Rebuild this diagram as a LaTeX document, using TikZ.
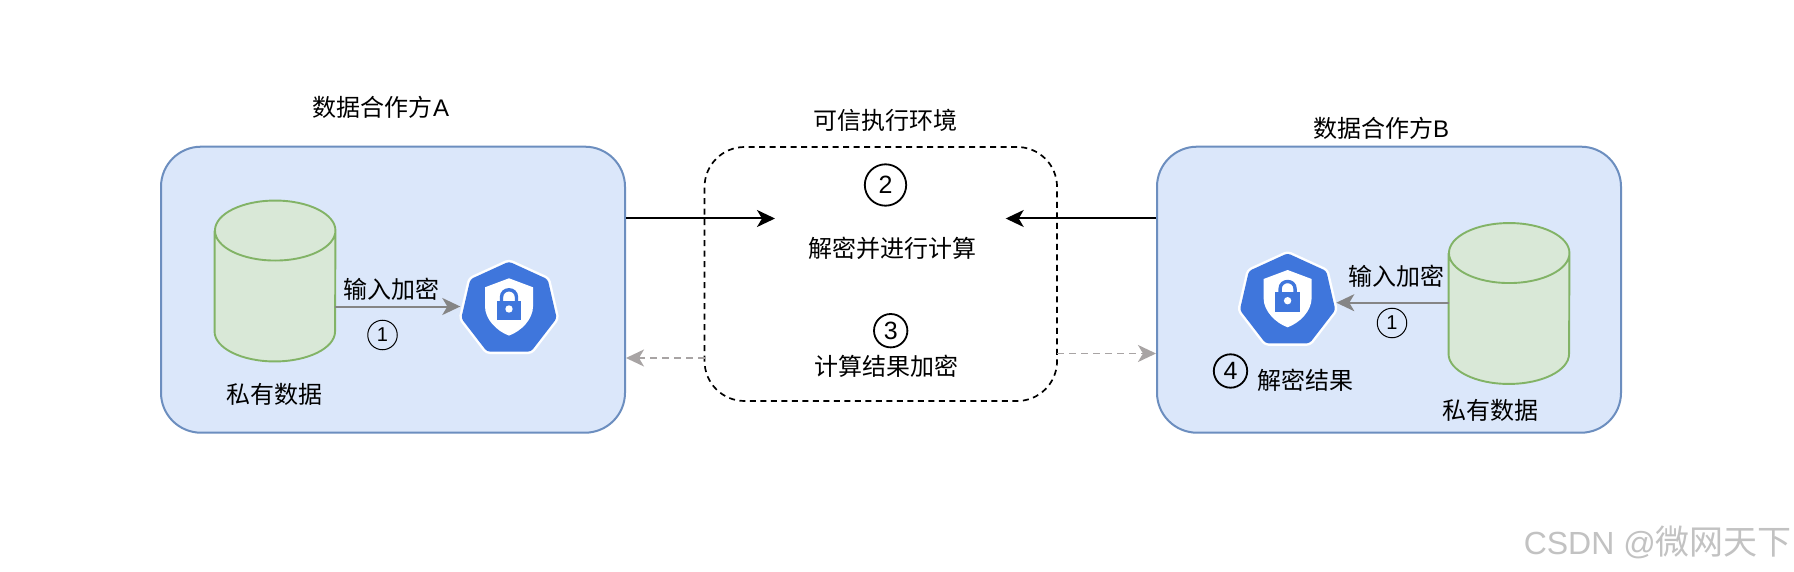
\documentclass[tikz,border=0pt]{standalone}
\usepackage{fontspec}
\setmainfont{Liberation Sans}
\newfontfamily\cjk{Noto Sans CJK SC}
\usetikzlibrary{arrows.meta,calc}
\definecolor{boxfill}{HTML}{DBE7FA}
\definecolor{boxline}{HTML}{6C8EBF}
\definecolor{cylfill}{HTML}{D9E8D7}
\definecolor{cylline}{HTML}{82B366}
\definecolor{iconblue}{HTML}{3F76DC}
\definecolor{arrgrey}{HTML}{858585}
\definecolor{dashgrey}{HTML}{A8A4A4}
\tikzset{
  party/.style={draw=boxline,fill=boxfill,line width=2pt,rounded corners=40pt,inner sep=0pt,minimum width=464pt,minimum height=286pt},
  tee/.style={draw=black,line width=1.7pt,dash pattern=on 6pt off 4.5pt,rounded corners=40pt,inner sep=0pt,minimum width=352.5pt,minimum height=254pt},
  cylslot/.style={inner sep=0pt,minimum width=120.5pt,minimum height=160.5pt},
  iconslot/.style={inner sep=0pt,minimum width=97pt,minimum height=94pt},
  label/.style={inner sep=0pt,font=\fontsize{24}{28}\selectfont\cjk,text=black},
  bold ring/.style={draw=black,circle,line width=1.8pt,inner sep=0pt,font=\fontsize{25}{28}\selectfont},
  thin ring/.style={draw=black,circle,line width=1pt,inner sep=0pt,minimum size=29.5pt,font=\fontsize{20}{24}\selectfont},
  solidarrow/.style={draw=black,line width=2pt,-{Stealth[length=18pt,width=17pt,inset=5pt]}},
  greyarrow/.style={draw=arrgrey,line width=2pt,-{Stealth[length=18pt,width=17pt,inset=5pt]}},
  dasharrow/.style={draw=dashgrey,line width=1.8pt,dash pattern=on 7pt off 5pt,-{Stealth[length=18pt,width=17pt,inset=5pt,fill=dashgrey]}},
  pics/shieldicon/.style={code={
    \path[fill=iconblue,draw=white,line width=5pt,rounded corners=3pt,line join=round]
      (0,-51.7)--(38.7,-34)--(47.7,5)--(22,38.3)--(-22,38.3)--(-47.7,5)--(-38.7,-34)--cycle;
    \path[fill=iconblue,rounded corners=3pt]
      (0,-51.7)--(38.7,-34)--(47.7,5)--(22,38.3)--(-22,38.3)--(-47.7,5)--(-38.7,-34)--cycle;
    \path[fill=white] (0,-35)--(24,-26)--(24,-6.7)
      .. controls (24,6) and (12,18) .. (0,22.3)
      .. controls (-12,18) and (-24,6) .. (-24,-6.7)--(-24,-26)--cycle;
    \draw[iconblue,line width=3.4pt] (-7.5,-12) -- (-7.5,-16) .. controls (-7.5,-26) and (7.5,-26) .. (7.5,-16) -- (7.5,-12);
    \path[fill=iconblue] (-12.2,-12.7) rectangle (12.2,6.7);
    \path[fill=white] (0,-4.3) circle (3.7);
  }}
}
\newcommand{\cylbody}[1]{%
  \path[fill=cylfill,draw=cylline,line width=1.9pt]
    (#1.north west)++(0,30) -- ($(#1.south west)+(0,-30)$)
    arc[start angle=180,end angle=360,x radius=60.25,y radius=-30] 
    -- ($(#1.north east)+(0,30)$)
    arc[start angle=0,end angle=180,x radius=60.25,y radius=-30]
    arc[start angle=180,end angle=360,x radius=60.25,y radius=-30];
}
\begin{document}
\begin{tikzpicture}[x=1pt,y=-1pt]
\useasboundingbox (0,0) rectangle (1794,572);
\fill[white] (0,0) rectangle (1794,572);

\node[party] (boxA) at (393,289.7) {};
\node[party] (boxB) at (1389,289.7) {};
\node[tee] (teeBox) at (880.8,274) {};

% Party A
\node[cylslot] (cylA) at (275,281) {};
\cylbody{cylA}
\node[iconslot] (iconA) at (509,306.5) {};
\pic at (509,313.3) {shieldicon};
\draw[greyarrow] (cylA.east |- iconA.center) -- (iconA.west);
\node[label] (inA) at (391.7,289) {输入加密};
\node[thin ring] (oneA) at (382.5,335) {1};
\node[label] (privA) at (274,394) {私有数据};
\node[label] (titleA) at (381,107.5) {数据合作方\rmfamily A};

% Party B
\node[cylslot] (cylB) at (1509,303.5) {};
\cylbody{cylB}
\node[iconslot] (iconB) at (1287.6,302.7) {};
\pic at (1287.6,305) {shieldicon};
\draw[greyarrow] (cylB.west |- iconB.center) -- (iconB.east);
\node[label] (inB) at (1396,276) {输入加密};
\node[thin ring] (oneB) at (1392,323) {1};
\node[label] (privB) at (1490,410) {私有数据};
\node[bold ring,minimum size=33.4pt] (fourB) at (1230.5,371) {4};
\node[label] (decB) at (1305,380) {解密结果};
\node[label] (titleB) at (1381,128.3) {数据合作方\rmfamily B};

% TEE
\node[label] (titleT) at (885.7,120.7) {可信执行环境};
\node[bold ring,minimum size=41.4pt] (two) at (885.5,185) {2};
\node[label] (calc) at (892.7,248.3) {解密并进行计算};
\node[bold ring,minimum size=33.4pt] (three) at (890.7,330.7) {3};
\node[label] (encr) at (886.7,366.7) {计算结果加密};

% Connectors
\coordinate (tipL) at (775,218.5);
\coordinate (tipR) at (1005.7,218.5);
\coordinate (dashL) at (704.7,358);
\coordinate (dashR) at (1057,353.5);
\draw[solidarrow] (boxA.east |- tipL) -- (tipL);
\draw[solidarrow] (boxB.west |- tipR) -- (tipR);
\draw[dasharrow] (dashL) -- (boxA.east |- dashL);
\draw[dasharrow] (dashR) -- (boxB.west |- dashR);

% Watermark
\node[inner sep=0pt,anchor=east,text=black!24,font=\fontsize{32}{36}\selectfont] (mark) at (1792,542.7) {CSDN @{\cjk\fontsize{34}{36}\selectfont 微网天下}};
\end{tikzpicture}
\end{document}
